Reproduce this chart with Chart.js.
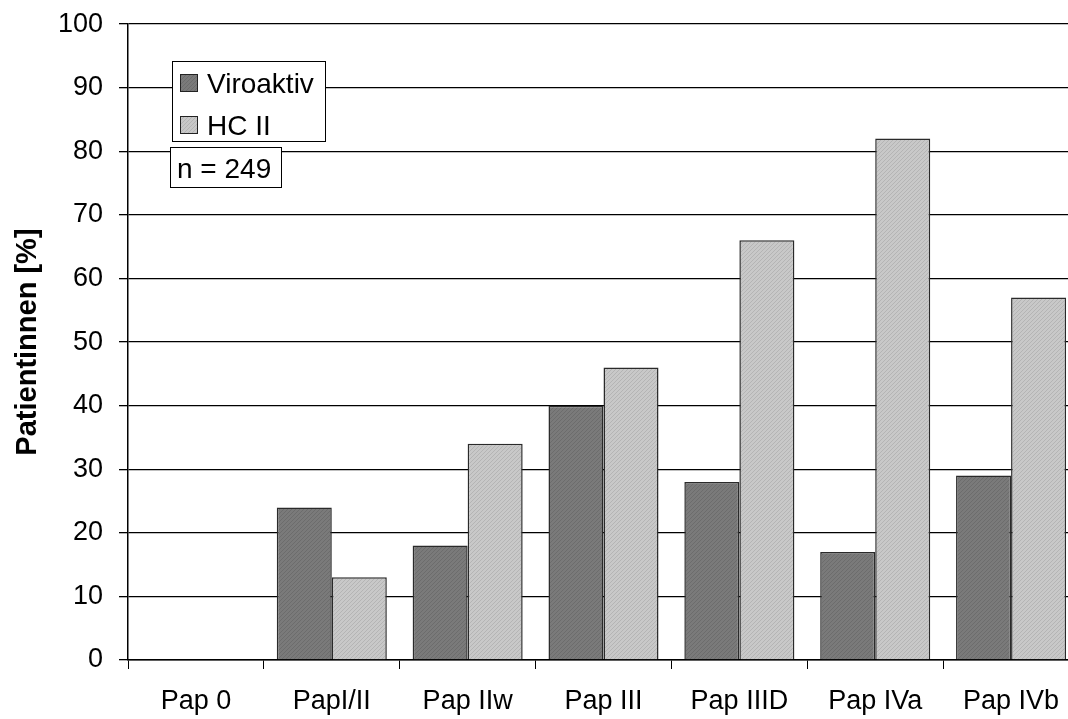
<!DOCTYPE html>
<html>
<head>
  <title>Pap-Befunde</title>
  <script src="https://cdn.jsdelivr.net/npm/chart.js"></script>
  <style>
    html, body { margin: 0; background: #fff; overflow: hidden; }
    #wrap { width: 1068px; height: 719px; overflow: hidden; }
  </style>
</head>
<body>
  <!-- die Zeichenfläche ist etwas breiter als das Fenster, wie im Original ist der letzte Balken fast am Rand -->
  <div id="wrap"><canvas id="papChart" width="1079" height="719"></canvas></div>
  <script>
    // Daten aus der Abbildung
    const categories = ["Pap 0", "PapI/II", "Pap IIw", "Pap III", "Pap IIID", "Pap IVa", "Pap IVb"];
    const viroaktiv = [0, 24, 18, 40, 28, 17, 29];
    const hc2 = [0, 13, 34, 46, 66, 82, 57];
    const yTicks = [0, 10, 20, 30, 40, 50, 60, 70, 80, 90, 100];
    const seriesNames = ["Viroaktiv", "HC II"];
    const noteText = "n = 249";

    // kleines Punktmuster wie im Original
    function makePattern(base, dot) {
      const c = document.createElement("canvas");
      c.width = 4; c.height = 4;
      const g = c.getContext("2d");
      g.fillStyle = base;
      g.fillRect(0, 0, 4, 4);
      g.fillStyle = dot;
      g.fillRect(0, 0, 1, 1);
      g.fillRect(2, 2, 1, 1);
      g.fillRect(1, 3, 1, 1);
      g.fillRect(3, 1, 1, 1);
      return g.createPattern(c, "repeat");
    }
    const ctx = document.getElementById("papChart").getContext("2d");
    const darkFill = makePattern("#7a7a7a", "#6c6c6c");
    const lightFill = makePattern("#c8c8c8", "#b4b4b4");
    const FONT = "Arial, 'Liberation Sans', sans-serif";

    // Legende und n-Angabe als Kästen über dem Diagramm
    const boxPlugin = {
      id: "boxes",
      afterDraw(chart) {
        const c = chart.ctx;
        c.save();
        c.lineWidth = 1;
        c.strokeStyle = "#000";
        c.fillStyle = "#fff";
        c.fillRect(172, 61, 154, 81);
        c.strokeRect(172.5, 61.5, 153, 80);
        const fills = [darkFill, lightFill];
        c.font = "28px " + FONT;
        c.textBaseline = "alphabetic";
        for (let i = 0; i < seriesNames.length; i++) {
          const y = 74 + i * 42;
          c.fillStyle = fills[i];
          c.fillRect(180, y, 18, 18);
          c.strokeStyle = "#222";
          c.strokeRect(180.5, y + 0.5, 17, 17);
          c.fillStyle = "#000";
          c.fillText(seriesNames[i], 207, 93 + i * 42);
        }
        c.fillStyle = "#fff";
        c.fillRect(170, 147, 112, 41);
        c.strokeStyle = "#000";
        c.strokeRect(170.5, 147.5, 111, 40);
        c.fillStyle = "#000";
        c.fillText(noteText, 177, 178);
        c.restore();
      }
    };

    new Chart(ctx, {
      type: "bar",
      data: {
        labels: categories,
        datasets: [
          {
            label: seriesNames[0],
            data: viroaktiv,
            backgroundColor: darkFill,
            borderColor: "#2a2a2a",
            borderWidth: 1.5,
            borderSkipped: "bottom"
          },
          {
            label: seriesNames[1],
            data: hc2,
            backgroundColor: lightFill,
            borderColor: "#2a2a2a",
            borderWidth: 1.5,
            borderSkipped: "bottom"
          }
        ]
      },
      options: {
        responsive: false,
        animation: false,
        layout: { padding: { top: 24, right: 0, left: 0, bottom: 0 } },
        datasets: { bar: { categoryPercentage: 0.81, barPercentage: 1.0 } },
        plugins: {
          legend: { display: false },
          title: { display: false },
          tooltip: { enabled: false }
        },
        scales: {
          x: {
            afterFit(s) { s.height = 59; },
            grid: {
              drawOnChartArea: false,
              drawTicks: true,
              tickLength: 9,
              color: "#000",
              offset: true
            },
            border: { color: "#000", width: 1.5 },
            ticks: {
              color: "#000",
              font: { family: FONT, size: 27 },
              padding: 16,
              maxRotation: 0
            }
          },
          y: {
            min: 0,
            max: 100,
            afterFit(s) { s.width = 128; },
            afterBuildTicks(s) { s.ticks = yTicks.map(v => ({ value: v })); },
            grid: {
              color: "#000",
              lineWidth: 1.3,
              tickLength: 9
            },
            border: { color: "#000", width: 1.5 },
            ticks: {
              color: "#000",
              font: { family: FONT, size: 27, lineHeight: 0.6 },
              padding: 16
            },
            title: {
              display: true,
              text: "Patientinnen [%]",
              color: "#000",
              font: { family: FONT, size: 29, weight: "bold" },
              padding: { top: 11, bottom: 0 }
            }
          }
        }
      },
      plugins: [boxPlugin]
    });
  </script>
</body>
</html>
